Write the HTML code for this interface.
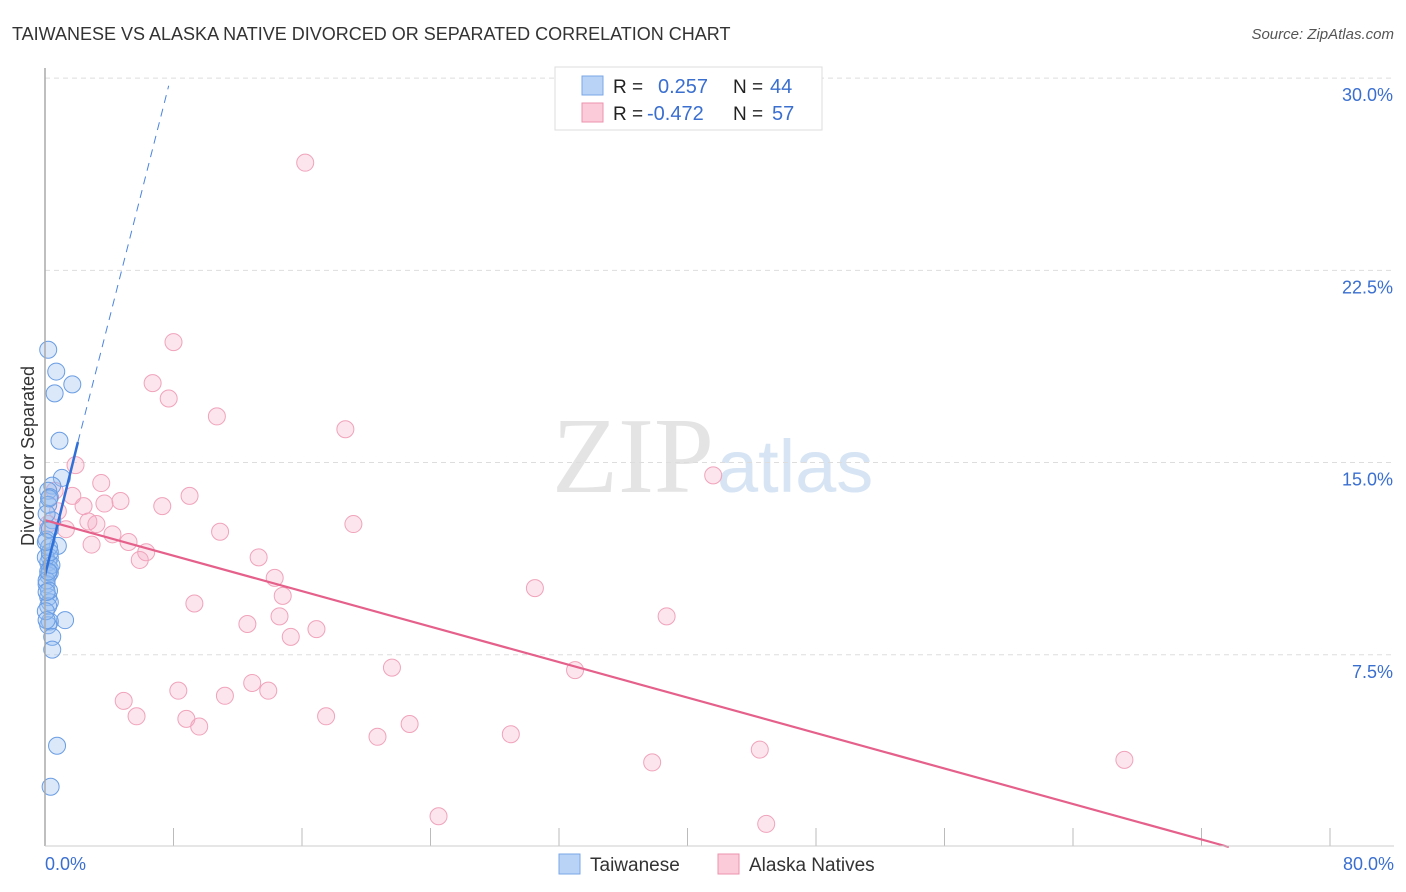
<!DOCTYPE html>
<html><head><meta charset="utf-8"><style>
body{margin:0;background:#fff;font-family:"Liberation Sans",sans-serif;}
svg{display:block}
</style></head><body>
<svg id="c" width="1406" height="892" xmlns="http://www.w3.org/2000/svg">
<text x="12" y="40" font-size="18" fill="#333">TAIWANESE VS ALASKA NATIVE DIVORCED OR SEPARATED CORRELATION CHART</text>
<text x="1394" y="39" font-size="15" fill="#555" font-style="italic" text-anchor="end">Source: ZipAtlas.com</text>
<text x="714" y="492" font-size="108" fill="#e4e4e4" text-anchor="end" font-family="Liberation Serif,serif">ZIP</text>
<text x="717" y="492" font-size="74" fill="#d6e4f4">atlas</text>
<text x="34" y="456" font-size="18" fill="#333" text-anchor="middle" transform="rotate(-90 34 456)">Divorced or Separated</text>
<g id="grid"></g><g id="pts"></g><g id="lines"></g>
<line x1="45" y1="68" x2="45" y2="846" stroke="#aaa" stroke-width="1.5"/>
<line x1="45" y1="846" x2="1394" y2="846" stroke="#ccc" stroke-width="1"/>
<text x="45" y="870" font-size="18" fill="#3a6fd0">0.0%</text>
<text x="1394" y="870" font-size="18" fill="#3a6fd0" text-anchor="end">80.0%</text>
<g>
<rect x="555" y="67" width="267" height="63" fill="#fff" stroke="#ddd"/>
<rect x="582" y="76" width="21" height="19" fill="#b8d3f5" stroke="#7aa7e6"/>
<rect x="582" y="103" width="21" height="19" fill="#fbcbd9" stroke="#ec93ae"/>
<text x="613" y="93" font-size="19" fill="#222">R = </text><text x="658" y="93" font-size="20" fill="#3a6fd0">0.257</text>
<text x="733" y="93" font-size="19" fill="#222">N = </text><text x="770" y="93" font-size="20" fill="#3a6fd0">44</text>
<text x="613" y="120" font-size="19" fill="#222">R = </text><text x="647" y="120" font-size="20" fill="#3a6fd0">-0.472</text>
<text x="733" y="120" font-size="19" fill="#222">N = </text><text x="772" y="120" font-size="20" fill="#3a6fd0">57</text>
</g>
<g>
<rect x="559" y="854" width="21" height="20" fill="#b8d3f5" stroke="#7aa7e6"/>
<text x="590" y="871" font-size="19" fill="#333">Taiwanese</text>
<rect x="718" y="854" width="21" height="20" fill="#fbcbd9" stroke="#ec93ae"/>
<text x="749" y="871" font-size="19" fill="#333">Alaska Natives</text>
</g>
</svg>
<script>
const yTicks=[7.5,15,22.5,30];
const xTickVals=[0,8,16,24,32,40,48,56,64,72,80];
const blueX=[0.2,0.7,1.7,0.6,0.9,1.05,0.45,0.2,0.3,0.2,0.45,0.2,0.8,0.3,0.2,0.3,0.2,0.3,0.1,0.2,0.3,0.2,1.25,0.3,0.2,0.45,0.45,0.75,0.35,0.1,0.25,0.05,0.1,0.25,0.05,0.1,0.3,0.1,0.25,0.4,0.3,0.05,0.2,0.1];
const blueY=[19.4,18.55,18.05,17.7,15.85,14.4,14.1,13.9,13.65,13.35,12.75,12.4,11.75,11.3,11.1,10.85,10.6,10.7,10.25,9.75,9.55,9.4,8.85,8.8,8.65,8.2,7.7,3.95,2.35,12.0,11.7,11.3,10.4,10.0,9.2,8.85,12.4,13.0,13.6,11.0,11.5,11.9,10.75,9.95];
const pinkX=[16.2,8.0,6.7,7.7,10.7,18.7,41.6,1.9,3.5,9.0,1.7,0.6,2.4,4.7,3.7,7.3,0.8,19.2,10.9,2.7,3.2,1.3,4.2,5.2,2.9,6.3,5.9,13.3,14.3,30.5,14.8,9.3,14.6,38.7,12.6,16.9,15.3,21.6,33.0,12.9,8.3,13.9,11.2,4.9,5.7,17.5,8.8,9.6,22.7,29.0,20.7,44.5,37.8,67.2,24.5,44.9,0.2];
const pinkY=[26.7,19.7,18.1,17.5,16.8,16.3,14.5,14.9,14.2,13.7,13.7,13.9,13.3,13.5,13.4,13.3,13.1,12.6,12.3,12.7,12.6,12.4,12.2,11.9,11.8,11.5,11.2,11.3,10.5,10.1,9.8,9.5,9.0,9.0,8.7,8.5,8.2,7.0,6.9,6.4,6.1,6.1,5.9,5.7,5.1,5.1,5.0,4.7,4.8,4.4,4.3,3.8,3.3,3.4,1.2,0.9,12.6];
const blueTrend=[0,10.6,2.05,15.8,7.7,29.7];
const pinkTrend=[0,12.75,73.7,0];
const X=v=>45+v*16.0625, Y=v=>847-v*25.63;
const NS='http://www.w3.org/2000/svg';
function mk(t,a,p){const e=document.createElementNS(NS,t);for(const k in a)e.setAttribute(k,a[k]);p.appendChild(e);return e;}
const grid=document.getElementById('grid'),svg=document.getElementById('c');
yTicks.forEach(v=>{
 const l=mk('line',{x1:45,x2:1394,y1:Y(v),y2:Y(v),stroke:'#ddd','stroke-dasharray':'5,4'},grid);
 
 
 const t=mk('text',{x:1393,y:Y(v)+23,'font-size':18,fill:'#3a6fd0','text-anchor':'end'},svg);
 t.textContent=v.toFixed(1)+'%';
 
 
});
xTickVals.forEach(v=>{
 const l=mk('line',{x1:X(v),x2:X(v),y1:828,y2:846,stroke:'#bbb'},grid);
 
 
});
const pts=document.getElementById('pts');
pinkX.forEach((x,i)=>{
 const c=mk('circle',{cx:X(x),cy:Y(pinkY[i]),r:8.5,fill:'rgba(246,170,195,0.3)',stroke:'#f0a3bb','stroke-width':1},pts);
 
 
});
blueX.forEach((x,i)=>{
 const c=mk('circle',{cx:X(x),cy:Y(blueY[i]),r:8.5,fill:'rgba(150,190,240,0.35)',stroke:'#6a9de3','stroke-width':1},pts);
 
 
});
const ln=document.getElementById('lines');
let a=mk('line',{x1:X(blueTrend[0]),y1:Y(blueTrend[1]),x2:X(blueTrend[2]),y2:Y(blueTrend[3]),stroke:'#2f6fd8','stroke-width':2.5},ln);


let b=mk('line',{x1:X(blueTrend[2]),y1:Y(blueTrend[3]),x2:X(blueTrend[4]),y2:Y(blueTrend[5]),stroke:'#4a84e0','stroke-width':1,'stroke-dasharray':'8,6'},ln);


let p=mk('line',{x1:X(pinkTrend[0]),y1:Y(pinkTrend[1]),x2:X(pinkTrend[2]),y2:Y(pinkTrend[3]),stroke:'#e5608b','stroke-width':2.2},ln);


</script>
</body></html>
